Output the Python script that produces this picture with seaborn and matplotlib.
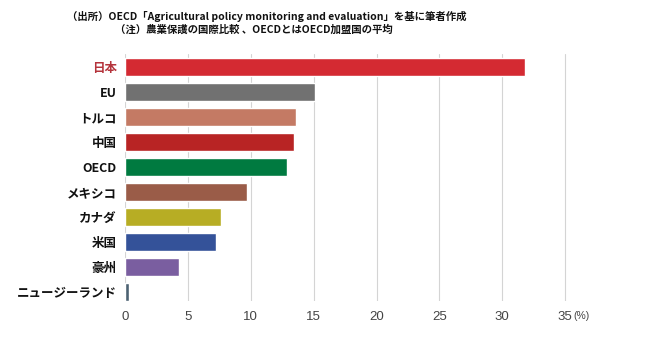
import matplotlib
matplotlib.use("Agg")
import matplotlib.pyplot as plt
import seaborn as sns
import pandas as pd
from matplotlib.transforms import blended_transform_factory

countries = ["日本", "EU", "トルコ", "中国", "OECD", "メキシコ", "カナダ", "米国", "豪州", "ニュージーランド"]
values = [31.8, 15.1, 13.6, 13.4, 12.9, 9.7, 7.6, 7.2, 4.3, 0.3]
colors = ["#d42a32", "#717171", "#c47a64", "#b82424", "#007a40",
          "#9a5c48", "#b7ad24", "#345299", "#7a5ea0", "#4c6272"]
xticks = [0, 5, 10, 15, 20, 25, 30, 35]

sns.set_theme(style="white")
plt.rcParams["font.family"] = ["Noto Sans CJK JP", "DejaVu Sans"]

df = pd.DataFrame({"country": countries, "value": values})

fig = plt.figure(figsize=(6.5, 3.37), dpi=100)
ax = fig.add_axes([125/650, 1 - 301/337, (584 - 125)/650, (301 - 54)/337])

sns.barplot(data=df, x="value", y="country", hue="country", palette=colors,
            legend=False, width=0.71, ax=ax, saturation=1, zorder=3)

ax.set_xlim(0, 36.5)
ax.set_ylim(9.36, -0.52)
ax.set_xticks(xticks)
ax.set_xticklabels([str(t) for t in xticks], fontsize=9.5, color="#444444",
                   family=["Liberation Sans", "DejaVu Sans"])
ax.grid(axis="x", color="#d4d4d4", linewidth=0.8, zorder=0)
ax.grid(axis="y", visible=False)
for s in ax.spines.values():
    s.set_visible(False)
ax.tick_params(axis="x", length=0, pad=7)
ax.tick_params(axis="y", length=0, pad=6)
ax.set_xlabel("")
ax.set_ylabel("")
for lbl in ax.get_yticklabels():
    lbl.set_fontsize(9)
    lbl.set_fontweight("bold")
    lbl.set_color("#b5343c" if lbl.get_text() == "日本" else "#111111")

trans = blended_transform_factory(ax.transData, ax.transAxes)
ax.text(35.65, -0.04, "(%)", transform=trans, fontsize=7.5, color="#444444",
        ha="left", va="top", family=["Liberation Sans", "DejaVu Sans"])

fig.text(67/650, 1 - 16/337,
         "（出所）OECD「Agricultural policy monitoring and evaluation」を基に筆者作成",
         fontsize=7.5, fontweight="bold", color="#111111", ha="left", va="center")
fig.text(115/650, 1 - 30/337,
         "（注）農業保護の国際比較 、OECDとはOECD加盟国の平均",
         fontsize=7.5, fontweight="bold", color="#111111", ha="left", va="center")

fig.savefig("out.png", dpi=100)
